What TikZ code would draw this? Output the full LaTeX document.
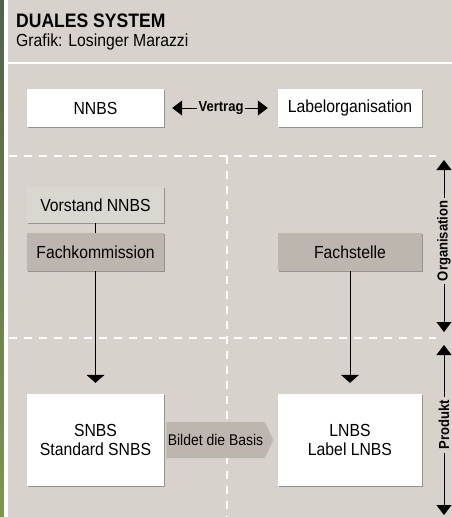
\documentclass[tikz,border=0pt]{standalone}
\usepackage{fontspec}
\setmainfont{Liberation Sans}[FakeStretch=0.9]
\usetikzlibrary{positioning, arrows.meta, shapes.symbols, shadows}
\definecolor{panel}{HTML}{D7D3CC}
\definecolor{darkbox}{HTML}{BCB6AF}
\definecolor{lightbox}{HTML}{DAD6D0}
\definecolor{photo}{HTML}{55604C}
\definecolor{photob}{HTML}{7E9552}

\begin{document}
\begin{tikzpicture}[x=1pt, y=-1pt,
		shade/.style={drop shadow={shadow xshift=1.2pt, shadow yshift=-1.2pt, opacity=0.3, fill=black}},
		wbox/.style={fill=white, inner sep=0pt, align=center, font=\fontsize{17.5}{19.5}\selectfont, shade},
		lbox/.style={wbox, fill=lightbox},
		gbox/.style={wbox, fill=darkbox},
		cut/.style={draw=white, line width=1.5pt, dash pattern=on 8pt off 7pt},
		pfeil/.style={draw, line width=0.8pt, -{Triangle[width=18pt, length=8pt]}},
		dpfeil/.style={draw, line width=0.8pt, {Triangle[width=15pt, length=10pt]}-{Triangle[width=15pt, length=10pt]}},
		tag/.style={fill=panel, inner sep=3pt, font=\fontsize{14.5}{16}\bfseries}
		]
		\useasboundingbox (0,0) rectangle (452,517);
		% background
		\shade[top color=photo, bottom color=photob] (0,0) rectangle (4,517);
		\fill[white] (4,0) rectangle (8,517);
		\fill[panel] (8,0) rectangle (452,517);
		\draw[white, line width=2pt] (8,63) -- (452,63);
		\node[anchor=base west, inner sep=0pt, font=\fontsize{19.5}{21}\bfseries] (title) at (16,27) {DUALES SYSTEM};
		\node[anchor=base west, inner sep=0pt, font=\fontsize{17.5}{19}\selectfont] (source) at (16,46) {Grafik: Losinger Marazzi};
		% field borders
		\draw[cut] (9,156) -- (436,156);
		\draw[cut] (9,338) -- (436,338);
		\draw[cut] (227,156) -- (227,517);
		% boxes
		\node[wbox, minimum width=137pt, minimum height=38pt] (NNBS) at (95.5,108) {NNBS};
		\node[wbox, minimum width=144pt, minimum height=38pt] (Label) at (350,108) {Labelorganisation};
		\node[lbox, minimum width=137pt, minimum height=36pt] (Vorstand) at (95.5,205) {Vorstand NNBS};
		\node[gbox, minimum width=137pt, minimum height=38pt] (Fachkom) at (95.5,252) {Fachkommission};
		\node[gbox, minimum width=144pt, minimum height=38pt] (Fachst) at (350,252) {Fachstelle};
		\node[signal, signal to=east, signal pointer angle=127, fill=darkbox, minimum width=107pt, minimum height=36pt, inner sep=0pt, font=\fontsize{15.5}{17}\selectfont] (Basis) at (215.5,440) {Bildet die Basis};
		\node[wbox, minimum width=137pt, minimum height=92pt] (SNBS) at (95.5,440) {SNBS\\Standard SNBS};
		\node[wbox, minimum width=144pt, minimum height=92pt] (LNBS) at (350,440) {LNBS\\Label LNBS};
		% connectors
		\draw[dpfeil, shorten <=8pt, shorten >=10pt] (NNBS) -- node[tag, inner sep=2pt] {Vertrag} (Label);
		\draw[line width=0.8pt] (Vorstand) -- (Fachkom);
		\draw[pfeil, shorten >=11pt] (Fachkom) -- (SNBS);
		\draw[pfeil, shorten >=11pt] (Fachst) -- (LNBS);
		% side scale
		\coordinate (orgtop) at (444,160);
		\coordinate (orgbot) at (444,332);
		\coordinate (protop) at (444,345);
		\coordinate (probot) at (444,515);
		\draw[dpfeil] (orgtop) -- node[tag, rotate=90, pos=0.47] {Organisation} (orgbot);
		\draw[dpfeil] (protop) -- node[tag, rotate=90, pos=0.47] {Produkt} (probot);
	\end{tikzpicture}
\end{document}
